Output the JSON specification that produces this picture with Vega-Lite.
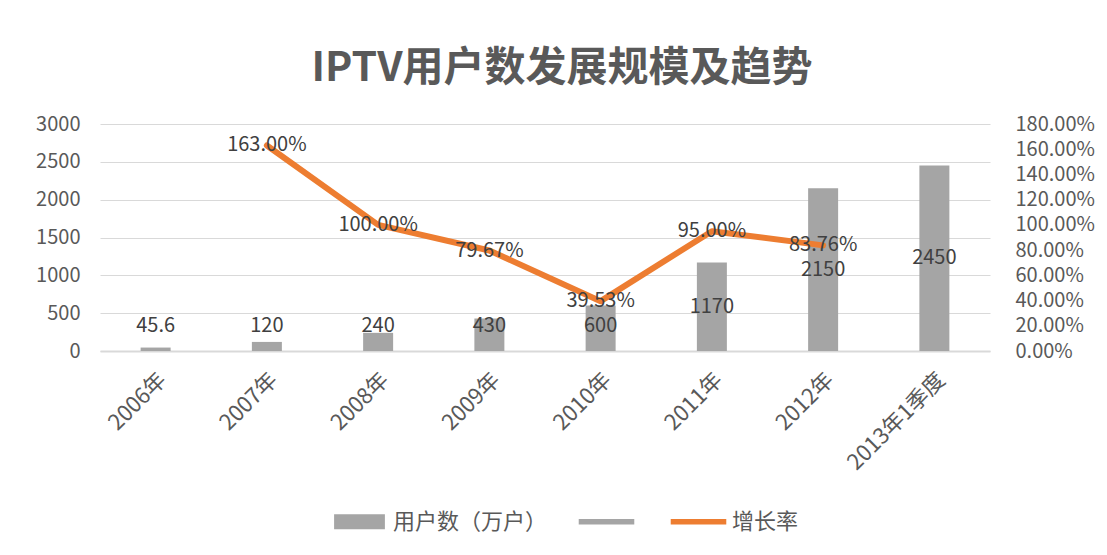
{
  "$schema": "https://vega.github.io/schema/vega-lite/v6.json",
  "width": 890,
  "height": 227,
  "autosize": {"type": "none"},
  "padding": {"left": 100, "top": 124, "right": 117, "bottom": 204},
  "background": "white",
  "config": {
    "view": {"stroke": null},
    "font": "Noto Sans CJK SC",
    "axis": {"labelFont": "Noto Sans CJK SC", "labelColor": "#595959", "labelFontSize": 20, "ticks": false, "title": null, "labelOverlap": false},
    "legend": {"labelFont": "Noto Sans CJK SC", "labelColor": "#595959", "labelFontSize": 22}
  },
  "title": {
    "text": "IPTV用户数发展规模及趋势",
    "fontSize": 41,
    "fontWeight": "bold",
    "color": "#595959",
    "font": "Noto Sans CJK SC",
    "offset": 24,
    "dx": 17
  },
  "data": {
    "values": [
      {"year": "2006年", "users": 45.6, "rate": null},
      {"year": "2007年", "users": 120, "rate": 1.63},
      {"year": "2008年", "users": 240, "rate": 1.0},
      {"year": "2009年", "users": 430, "rate": 0.7967},
      {"year": "2010年", "users": 600, "rate": 0.3953},
      {"year": "2011年", "users": 1170, "rate": 0.95},
      {"year": "2012年", "users": 2150, "rate": 0.8376},
      {"year": "2013年1季度", "users": 2450, "rate": null}
    ]
  },
  "encoding": {
    "x": {
      "field": "year",
      "type": "nominal",
      "sort": null,
      "scale": {"paddingInner": 0, "paddingOuter": 0},
      "axis": {"labelAngle": -45, "labelPadding": 18, "labelFontSize": 22, "domainColor": "#D9D9D9", "domainWidth": 2, "grid": false}
    }
  },
  "layer": [
    {
      "encoding": {
        "y": {
          "field": "users",
          "type": "quantitative",
          "scale": {"domain": [0, 3000], "nice": false},
          "axis": {"values": [0, 500, 1000, 1500, 2000, 2500, 3000], "format": "d", "domain": false, "gridColor": "#D9D9D9", "labelPadding": 20, "labelOverlap": false, "labelFlush": false, "labelBound": false}
        }
      },
      "layer": [
        {
          "mark": {"type": "bar", "size": 30, "color": "#A5A5A5"}
        },
        {
          "transform": [{"calculate": "max(datum.users / 2, 330)", "as": "labelPos"}],
          "mark": {"type": "text", "fontSize": 20, "color": "#404040", "baseline": "middle", "align": "center"},
          "encoding": {
            "y": {"field": "labelPos", "type": "quantitative", "scale": {"domain": [0, 3000], "nice": false}, "axis": {"values": [0, 500, 1000, 1500, 2000, 2500, 3000], "format": "d", "domain": false, "gridColor": "#D9D9D9", "labelPadding": 20, "labelOverlap": false, "labelFlush": false, "labelBound": false}},
            "text": {"field": "users", "type": "quantitative"}
          }
        }
      ]
    },
    {
      "encoding": {
        "y": {
          "field": "rate",
          "type": "quantitative",
          "scale": {"domain": [0, 1.8], "nice": false},
          "axis": {"orient": "right", "values": [0, 0.2, 0.4, 0.6, 0.8, 1.0, 1.2, 1.4, 1.6, 1.8], "format": ".2%", "domain": false, "grid": false, "labelPadding": 25, "labelBound": false, "labelOverlap": false, "labelFlush": false}
        }
      },
      "layer": [
        {
          "mark": {"type": "line", "color": "#ED7D31", "strokeWidth": 6, "strokeCap": "round", "strokeJoin": "round"}
        },
        {
          "mark": {"type": "text", "fontSize": 20, "color": "#404040", "baseline": "middle", "align": "center"},
          "encoding": {
            "text": {"field": "rate", "type": "quantitative", "format": ".2%"}
          }
        }
      ]
    },
    {
      "transform": [{"filter": "false"}],
      "mark": {"type": "point", "filled": true, "opacity": 1},
      "encoding": {
        "x": {"field": "year", "type": "nominal", "sort": null},
        "color": {
          "field": "year",
          "type": "nominal",
          "scale": {"domain": ["用户数（万户）", " ", "增长率"], "range": ["#A5A5A5", "#A5A5A5", "#ED7D31"]},
          "legend": {
            "orient": "none",
            "legendX": 232,
            "legendY": 370,
            "direction": "horizontal",
            "title": null,
            "symbolSize": 2800,
            "columnPadding": 30,
            "labelOffset": 6
          }
        },
        "shape": {
          "field": "year",
          "type": "nominal",
          "scale": {"domain": ["用户数（万户）", " ", "增长率"], "range": ["M-0.96,-0.28H0.96V0.28H-0.96Z", "M-1.05,-0.1H1.05V0.1H-1.05Z", "M-1.05,-0.1H1.05V0.1H-1.05Z"]},
          "legend": {
            "orient": "none",
            "legendX": 232,
            "legendY": 370,
            "direction": "horizontal",
            "title": null,
            "symbolSize": 2800,
            "columnPadding": 30,
            "labelOffset": 6
          }
        }
      }
    }
  ],
  "resolve": {"scale": {"y": "independent"}}
}
